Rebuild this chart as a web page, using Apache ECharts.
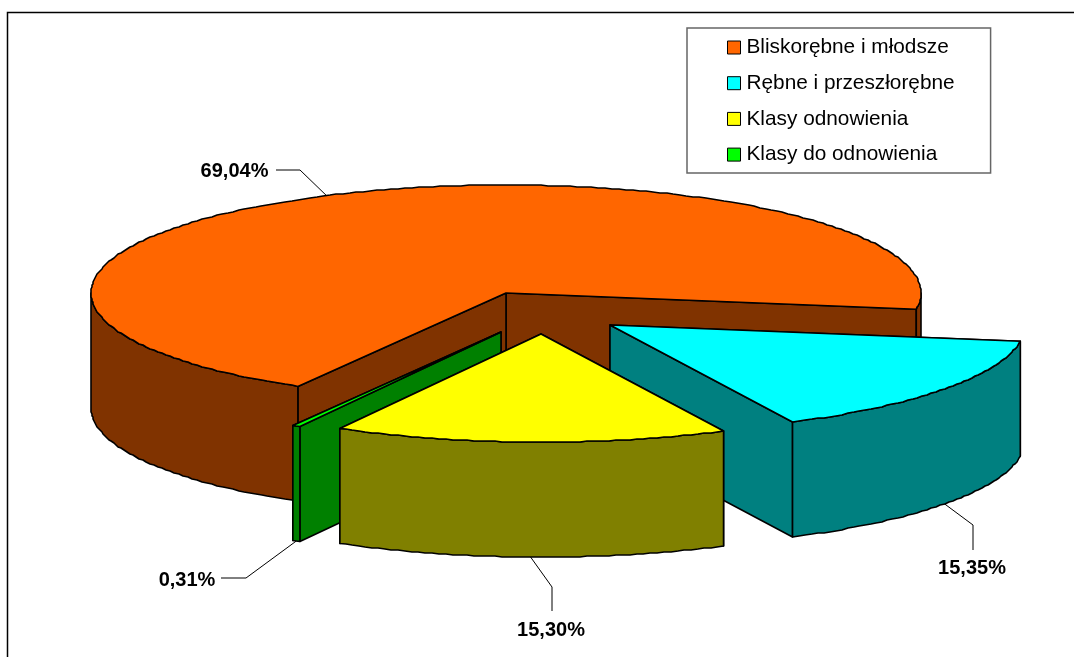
<!DOCTYPE html>
<html>
<head>
<meta charset="utf-8">
<title>Udział klas wieku</title>
<script src="https://cdn.jsdelivr.net/npm/echarts@6/dist/echarts.min.js"></script>
<style>
  html, body { margin: 0; padding: 0; background: #fff; }
  #chart_main { width: 1074px; height: 657px; }
</style>
</head>
<body>
<div id="chart_main"></div>
<script>
  // dane
  var categories = ['Bliskorębne i młodsze', 'Rębne i przeszłorębne', 'Klasy do odnowienia', 'Klasy odnowienia'];
  var legendOrder = ['Bliskorębne i młodsze', 'Rębne i przeszłorębne', 'Klasy odnowienia', 'Klasy do odnowienia'];
  var shares = [69.04, 15.35, 0.31, 15.30];

  // kolejność wycinków na kole to: pomarańczowy, cyjan, żółty, zielony
  var pieOrder = [0, 1, 3, 2];
  var topColors = ['#ff6600', '#00ffff', '#00ff00', '#ffff00'];
  var sideColors = ['#803300', '#008080', '#008000', '#808000'];

  // wygląd "koła 3D"
  var rx = 415, ry = 108, depth = 115;
  var startAngle = 120.1;
  var centers = [[506, 293], [610, 325], [501, 332], [541, 334]];
  var elbows = [
    [[300, 170], [276, 170]],
    [[973, 525], [973, 550]],
    [[246, 578], [221, 578]],
    [[552, 587], [552, 611]]
  ];
  var labelPos = [[234.5, 171.5], [972, 568.5], [187, 580], [551, 630]];
  var leaderOnTop = [true, false, false, false];

  function sliceRange(idx) {
    var total = shares.reduce(function (a, b) { return a + b; }, 0);
    var from = startAngle;
    for (var i = 0; i < pieOrder.length; i++) {
      var sweep = shares[pieOrder[i]] / total * 360;
      if (pieOrder[i] === idx) return [from, from + sweep];
      from += sweep;
    }
  }

  function rim(c, deg, dy) {
    var a = deg * Math.PI / 180;
    return [c[0] + rx * Math.cos(a), c[1] + ry * Math.sin(a) + (dy || 0)];
  }

  // obwód jest lekko poszarpany jak w oryginale, stąd zaokrąglanie do pikseli
  function arc(c, from, to, dy) {
    var pts = [];
    var n = Math.max(1, Math.ceil(to - from));
    for (var i = 0; i <= n; i++) {
      var p = rim(c, from + (to - from) * i / n, dy);
      pts.push(i === 0 || i === n ? p : [Math.round(p[0]), Math.round(p[1])]);
    }
    return pts;
  }

  function poly(points, fill) {
    return {
      type: 'polygon',
      shape: { points: points },
      style: { fill: fill, stroke: '#000', lineWidth: 1.6, lineJoin: 'round' }
    };
  }

  function renderSlice(params, api) {
    var idx = params.seriesIndex;
    var c = centers[idx];
    var range = sliceRange(idx);
    var s = range[0], e = range[1];
    var kids = [];

    // ściany promieniowe, tylna najpierw
    var walls = [s, e].sort(function (p, q) { return rim(c, p)[1] - rim(c, q)[1]; });
    walls.forEach(function (w) {
      var p = rim(c, w);
      kids.push(poly([c, p, [p[0], p[1] + depth], [c[0], c[1] + depth]], sideColors[idx]));
    });

    // ściana zewnętrzna, tylko przednia część obwodu
    [0, 360].forEach(function (k) {
      var from = Math.max(s, k), to = Math.min(e, k + 180);
      if (to > from) {
        kids.push(poly(arc(c, from, to, 0).concat(arc(c, from, to, depth).reverse()), sideColors[idx]));
      }
    });

    // wierzch
    kids.push(poly([c].concat(arc(c, s, e, 0)), topColors[idx]));

    // odnośnik i etykieta
    var mid = (s + e) / 2;
    var anchor = rim(c, mid, leaderOnTop[idx] ? 0 : depth);
    kids.push({
      type: 'polyline',
      shape: { points: [anchor].concat(elbows[idx]) },
      style: { fill: null, stroke: '#000', lineWidth: 1 }
    });
    kids.push({
      type: 'text',
      style: {
        text: api.value(0).toFixed(2).replace('.', ',') + '%',
        x: labelPos[idx][0],
        y: labelPos[idx][1],
        align: 'center',
        verticalAlign: 'middle',
        fill: '#000',
        font: 'bold 20px "Liberation Sans", Arial, sans-serif'
      }
    });
    return { type: 'group', children: kids };
  }

  var myChart = echarts.init(document.getElementById('chart_main'));
  var option = {
    animation: false,
    backgroundColor: '#fff',
    legend: {
      data: legendOrder,
      orient: 'vertical',
      left: 687,
      top: 28,
      align: 'left',
      icon: 'rect',
      itemWidth: 13,
      itemHeight: 13,
      itemGap: 14.7,
      padding: [9, 36, 8, 40],
      borderColor: '#666',
      borderWidth: 1.5,
      backgroundColor: '#fff',
      selectedMode: false,
      itemStyle: { borderColor: '#000', borderWidth: 1 },
      textStyle: {
        color: '#000',
        fontSize: 20.8,
        fontFamily: '"Liberation Sans", Arial, sans-serif',
        padding: [4, 0, 0, 1]
      }
    },
    graphic: [
      {
        type: 'polyline',
        silent: true,
        shape: { points: [[7.5, 657], [7.5, 12.5], [1074, 12.5]] },
        style: { fill: null, stroke: '#000', lineWidth: 1.5 }
      }
    ],
    series: categories.map(function (name, i) {
      return {
        name: name,
        type: 'custom',
        coordinateSystem: 'none',
        silent: true,
        z: 2 + i,
        itemStyle: { color: topColors[i] },
        renderItem: renderSlice,
        data: [[shares[i]]]
      };
    })
  };
  myChart.setOption(option);
</script>
</body>
</html>
